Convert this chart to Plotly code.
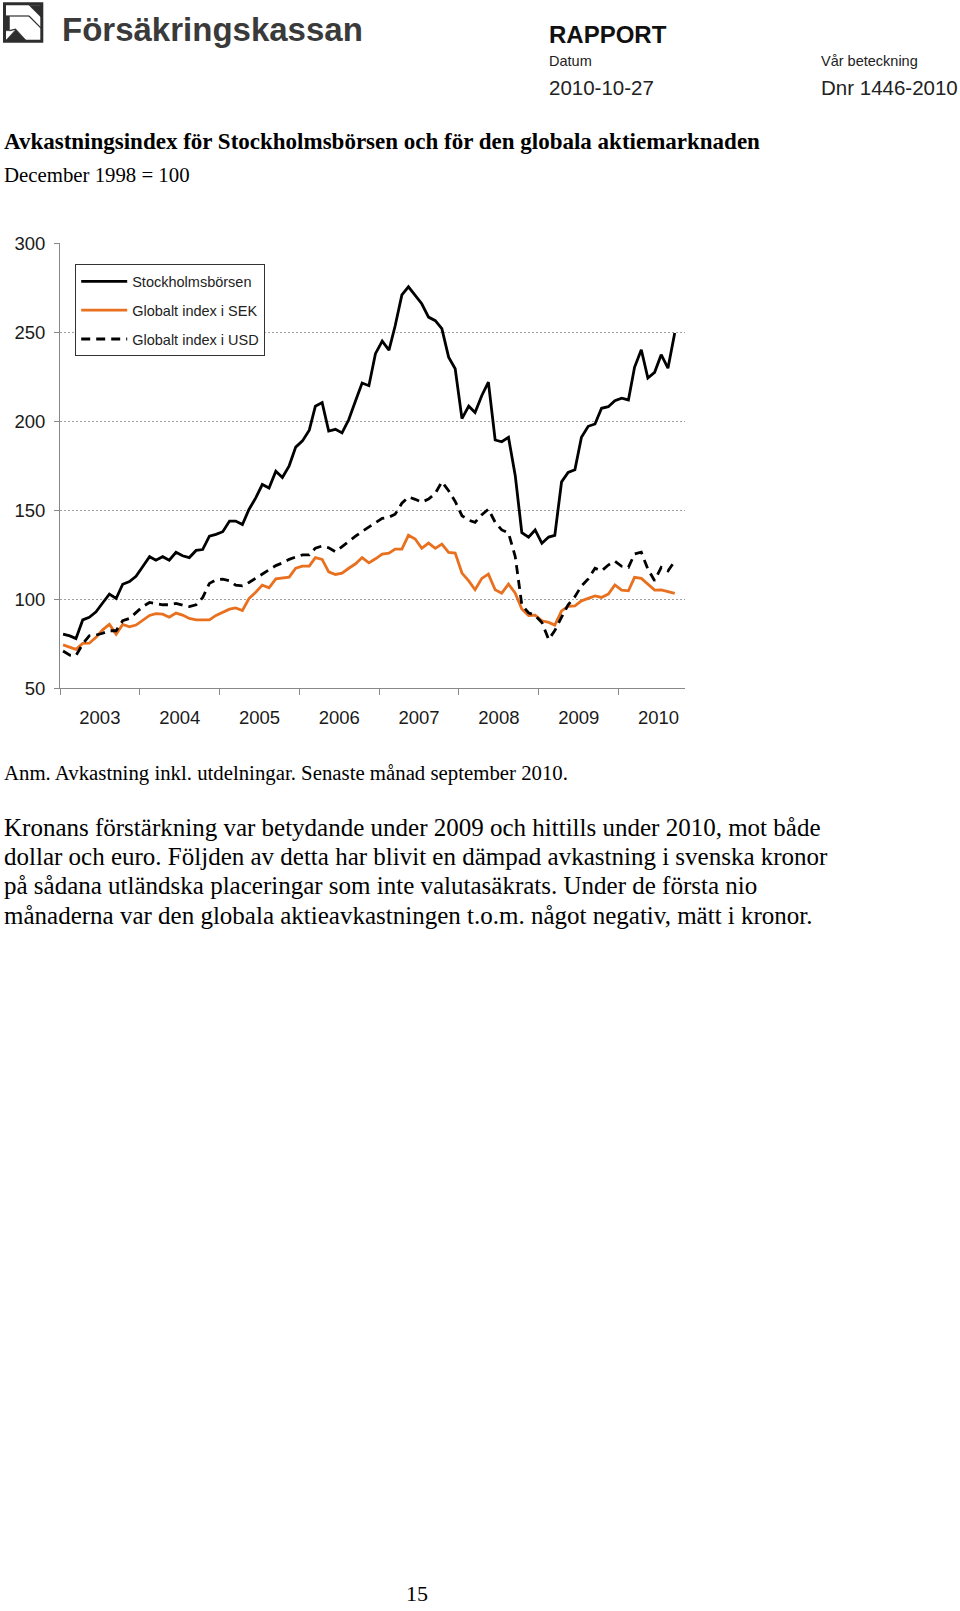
import pandas as pd
import plotly.graph_objects as go

# ---------------- data ----------------
first_month = "2003-01-01"
n_months = 93  # Jan 2003 - Sep 2010

stockholm = [80.5, 79.5, 78, 88.5, 90, 93, 98, 103, 100.5, 108.5,
             110, 113, 118.5, 124, 122, 124, 122, 126.5, 124.5, 123.5,
             127.5, 128, 135.5, 136.5, 138, 144, 144, 142, 150.5, 157,
             164.5, 162.5, 172, 168.5, 175, 185.5, 189, 195, 208.5, 210.5,
             194.5, 195.5, 193.5, 201, 211.5, 221.5, 220, 238, 245, 240,
             253.5, 271, 275.5, 270.5, 266, 258.5, 256.5, 252, 236, 229.5,
             201.5, 208.5, 205, 214.5, 222, 189.5, 188.5, 191, 169.5, 137.5,
             135, 139, 131.5, 135, 136, 166, 171.3, 172.8, 191, 197.2,
             198.5, 207.3, 208.2, 211.6, 213, 212, 230.3, 240.2, 224.3, 227.5,
             237.4, 229.8, 249.6]

global_sek = [74.5, 73, 72, 75.3, 75.4, 78.7, 82.9, 86, 80.5, 86,
              84.6, 85.6, 88.5, 91, 92, 91.7, 90, 92.3, 91.2, 89.3,
              88.5, 88.4, 88.5, 91, 92.7, 94.5, 95.2, 93.8, 100.5, 104,
              108, 106.5, 111.5, 112.2, 112.5, 117.5, 118.7, 118.7, 123.5, 122.5,
              115.5, 114, 114.7, 117.5, 120, 123.5, 120.5, 122.8, 125.4, 126,
              128.2, 128.2, 136, 133.9, 128.7, 131.6, 128.7, 131.1, 126.4, 126,
              114.8, 110.4, 105.4, 111.8, 114.2, 105.4, 103.5, 108.6, 103.5, 94.6,
              91, 91.2, 88, 87.1, 85.6, 93.6, 96.1, 96.4, 99.2, 100.6,
              102, 101.1, 103, 108.1, 105.2, 104.8, 112.4, 111.8, 108.6, 105.2,
              105.4, 104.3, 103.4]

global_usd = [71, 68.7, 68.5, 75, 79.6, 80, 81, 82.4, 82.4, 88,
              89.3, 92.7, 96, 98.3, 97.8, 97, 97, 97.8, 96.8, 96,
              97, 101, 109, 111, 111.4, 110.5, 108, 107.6, 109.5, 111.8,
              114.5, 116.5, 119, 120.5, 122.5, 123.8, 125, 125, 128.8, 130,
              129, 126.8, 129.8, 132.8, 135.5, 138.2, 140.5, 143, 145.5, 146.2,
              147.8, 154, 157.5, 156.2, 154.6, 156.3, 159.6, 166, 161, 155,
              147, 144.5, 143.3, 147.5, 150.7, 143.3, 139, 137.3, 124, 97,
              92.5, 91, 87, 77.5, 82.5, 90, 97, 101.5, 107.6, 111.5,
              117.5, 116, 119.3, 121.5, 118.6, 118, 125.5, 126.5, 117, 110.5,
              118, 116, 121.5]

series_names = ["Stockholmsbörsen", "Globalt index i SEK", "Globalt index i USD"]
y_ticks = [50, 100, 150, 200, 250, 300]

# monthly categories, plotted at mid-month
months = pd.date_range(first_month, periods=n_months, freq="MS") + pd.Timedelta(days=14)

W, H = 960, 1611


def px(x):
    return x / W


def py(y):
    # page y (pixels from top) -> paper fraction, with a small correction
    # for the vertical scaling observed in the captured page
    y = (y - 11.8) / 0.987
    return 1 - y / H


fig = go.Figure()
fig.add_trace(go.Scatter(x=months, y=stockholm, mode="lines", name=series_names[0],
                         legendgroup="a",
                         line=dict(color="#000000", width=2.8)))
fig.add_trace(go.Scatter(x=months, y=global_sek, mode="lines", name=series_names[1],
                         legendgroup="b",
                         line=dict(color="#E8701E", width=2.8)))
fig.add_trace(go.Scatter(x=months, y=global_usd, mode="lines", name=series_names[2],
                         legendgroup="c",
                         line=dict(color="#000000", width=2.8, dash="9px,6px")))

axis_font = dict(family="Liberation Sans, Arial, sans-serif", size=18.5, color="#1a1a1a")

fig.update_layout(
    width=W, height=H,
    margin=dict(l=0, r=0, t=0, b=0),
    paper_bgcolor="white", plot_bgcolor="white",
    showlegend=True,
    legend=dict(x=px(75), y=py(265), xanchor="left", yanchor="top",
                bgcolor="white", bordercolor="#333333", borderwidth=1.2,
                font=dict(family="Liberation Sans, Arial, sans-serif", size=14.5, color="#222222"),
                traceorder="grouped", tracegroupgap=7, itemwidth=46),
    xaxis=dict(domain=[px(60), px(685)], type="date",
               range=["2003-01-01", "2010-11-01"],
               tick0="2003-01-01", dtick="M12", tickformat="%Y",
               ticklabelmode="period", ticks="outside", ticklen=6,
               tickcolor="#888888", showgrid=False, showline=True,
               linecolor="#888888", linewidth=1, tickfont=axis_font,
               ticklabelstandoff=6,
               zeroline=False, fixedrange=True),
    yaxis=dict(domain=[py(689.3), py(244)], range=[50, 300],
               tickvals=y_ticks, ticks="outside", ticklen=5,
               tickcolor="#888888", showline=True, linecolor="#888888",
               linewidth=1, showgrid=True, gridcolor="#a0a0a0", gridwidth=1,
               griddash="2px,2px", tickfont=axis_font, zeroline=False,
               ticklabelstandoff=5, fixedrange=True),
)

# ---------------- page texts ----------------
sans = "Liberation Sans, Arial, sans-serif"
serif = "Liberation Serif, Times New Roman, serif"


def text(s, x, y, size, family, color="#000000", bold=False, anchor="left"):
    if bold:
        s = "<b>" + s + "</b>"
    fig.add_annotation(text=s, x=px(x), y=py(y), xref="paper", yref="paper",
                       xanchor=anchor, yanchor="middle", showarrow=False,
                       font=dict(size=size, family=family, color=color))


text("Försäkringskassan", 60, 30, 33, sans, "#3a3a3a", bold=True)
text("RAPPORT", 547, 35, 24, sans, "#111111", bold=True)
text("Datum", 547, 62, 14.5, sans, "#222222")
text("Vår beteckning", 819, 62, 14.5, sans, "#222222")
text("2010-10-27", 547, 88, 20.5, sans, "#222222")
text("Dnr 1446-2010", 819, 88, 20.5, sans, "#222222")

text("Avkastningsindex för Stockholmsbörsen och för den globala aktiemarknaden",
     2, 142, 23, serif, bold=True)
text("December 1998 = 100", 2, 175, 20.8, serif)
text("Anm. Avkastning inkl. utdelningar. Senaste månad september 2010.",
     2, 774, 20.8, serif)

para = [
    "Kronans förstärkning var betydande under 2009 och hittills under 2010, mot både",
    "dollar och euro. Följden av detta har blivit en dämpad avkastning i svenska kronor",
    "på sådana utländska placeringar som inte valutasäkrats. Under de första nio",
    "månaderna var den globala aktieavkastningen t.o.m. något negativ, mätt i kronor.",
]
for i, line in enumerate(para):
    text(line, 2, 828.4 + i * 29.2, 25, serif)

text("15", 417, 1594, 22, serif, anchor="center")

# ---------------- logo ----------------
logo_col = "#2e2e2e"


def path(points):
    d = "M " + " L ".join(f"{px(a):.5f},{py(b):.5f}" for a, b in points) + " Z"
    return d


fig.add_shape(type="rect", xref="paper", yref="paper",
              x0=px(4.5), x1=px(41.8), y0=py(42), y1=py(4.5),
              line=dict(color=logo_col, width=3), fillcolor="white")
fig.add_shape(type="path", xref="paper", yref="paper",
              path=path([(29, 6), (41, 6), (41, 18)]),
              line=dict(color=logo_col, width=0.5), fillcolor=logo_col)
fig.add_shape(type="path", xref="paper", yref="paper",
              path=path([(5.5, 16.5), (9.5, 16.5), (9.5, 31.5), (5.5, 31.5)]),
              line=dict(color=logo_col, width=0.5), fillcolor=logo_col)
fig.add_shape(type="path", xref="paper", yref="paper",
              path=path([(6, 41), (16, 30), (26, 41)]),
              line=dict(color=logo_col, width=0.5), fillcolor=logo_col)
fig.add_shape(type="line", xref="paper", yref="paper",
              x0=px(9.5), y0=py(16.8), x1=px(29), y1=py(16.8),
              line=dict(color=logo_col, width=1.2))
fig.add_shape(type="line", xref="paper", yref="paper",
              x0=px(29), y0=py(16.8), x1=px(41), y1=py(29),
              line=dict(color=logo_col, width=1.2))
fig.add_shape(type="line", xref="paper", yref="paper",
              x0=px(9.5), y0=py(31.5), x1=px(16), y1=py(30),
              line=dict(color=logo_col, width=1.2))

fig.write_html(
    "out.html",
    config={"displayModeBar": False},
    post_script="document.body.style.margin='0px';document.body.style.padding='0px';"
                "document.documentElement.style.overflow='hidden';",
)
